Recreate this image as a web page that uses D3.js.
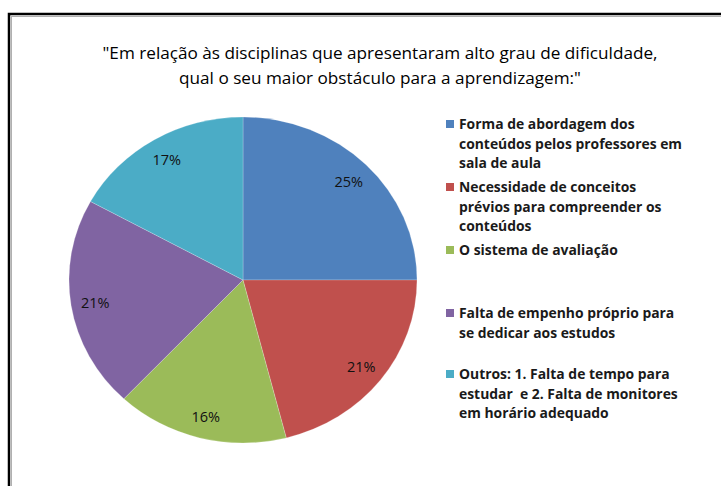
<!DOCTYPE html>
<html>
<head>
<meta charset="utf-8">
<script src="https://cdn.jsdelivr.net/npm/d3@7"></script>
<style>
  html, body { margin: 0; padding: 0; background: #fff; }
  svg { display: block; font-family: "Open Sans", "Noto Sans", sans-serif; }
</style>
</head>
<body>
<div id="chart"></div>
<script>
const WIDTH = 721;
const HEIGHT = 486;

const titleLines = [
  "\"Em relação às disciplinas que apresentaram alto grau de dificuldade,",
  "qual o seu maior obstáculo para a aprendizagem:\"",
];

const categories = [
  ["Forma de abordagem dos", "conteúdos pelos professores em", "sala de aula"],
  ["Necessidade de conceitos", "prévios para compreender os", "conteúdos"],
  ["O sistema de avaliação"],
  ["Falta de empenho próprio para", "se dedicar aos estudos"],
  ["Outros: 1. Falta de tempo para", "estudar  e 2. Falta de monitores", "em horário adequado"],
];
const values = [25, 21, 16, 21, 17];
const colors = ["#4f81bd", "#c0504d", "#9bbb59", "#8064a2", "#4bacc6"];

// legend layout (baseline of first line per item)
const legendTops = [129, 192, 255, 318, 379];
const LEGEND_LINE = 19.5;

const PIE = { cx: 243, cy: 280, rx: 174, ry: 163 };

const svg = d3
  .select("#chart")
  .append("svg")
  .attr("width", WIDTH)
  .attr("height", HEIGHT);

// frame (only the top and left edges are inside the picture)
svg.append("rect")
  .attr("x", 9).attr("y", 14)
  .attr("width", 900).attr("height", 700)
  .attr("fill", "none")
  .attr("stroke", "#000")
  .attr("stroke-width", 2.5);
svg.append("rect")
  .attr("x", 11.5).attr("y", 16.5)
  .attr("width", 900).attr("height", 700)
  .attr("fill", "none")
  .attr("stroke", "#b0b0b0")
  .attr("stroke-width", 1);

// title
const titleTexts = svg.append("g")
  .selectAll("text")
  .data(titleLines)
  .join("text")
  .attr("x", 380)
  .attr("y", (d, i) => 59 + i * 25)
  .attr("text-anchor", "middle")
  .style("font-size", "15.5px")
  .attr("fill", "#000")
  .text((d) => d);

const titleScale = 555 / titleTexts.nodes()[0].getComputedTextLength();
titleTexts.each(function () {
  const len = this.getComputedTextLength();
  d3.select(this)
    .attr("textLength", len * titleScale)
    .attr("lengthAdjust", "spacingAndGlyphs");
});

// pie, stretched a little horizontally like the source picture
const pie = d3.pie().sort(null).value((d) => d);
const arcs = pie(values);
const arc = d3.arc().innerRadius(0).outerRadius(PIE.ry);
const labelArc = d3.arc().innerRadius(PIE.ry * 0.86).outerRadius(PIE.ry * 0.86);
const sx = PIE.rx / PIE.ry;

svg.append("g")
  .attr("transform", `translate(${PIE.cx},${PIE.cy}) scale(${sx},1)`)
  .selectAll("path")
  .data(arcs)
  .join("path")
  .attr("d", arc)
  .attr("fill", (d, i) => colors[i])
  .attr("stroke", "#fff")
  .attr("stroke-opacity", 0.35)
  .attr("stroke-width", 0.6);

svg.append("g")
  .selectAll("text")
  .data(arcs)
  .join("text")
  .attr("x", (d) => PIE.cx + labelArc.centroid(d)[0] * sx)
  .attr("y", (d) => PIE.cy + labelArc.centroid(d)[1] + 6)
  .attr("text-anchor", "middle")
  .style("font-size", "14.5px")
  .attr("fill", "#111")
  .text((d) => `${d.data}%`);

// legend
const legend = svg.append("g");
categories.forEach((lines, i) => {
  legend.append("rect")
    .attr("x", 446)
    .attr("y", legendTops[i] - 9)
    .attr("width", 8)
    .attr("height", 8)
    .attr("fill", colors[i]);
  lines.forEach((line, j) => {
    legend.append("text")
      .attr("class", "legend-line")
      .attr("x", 459)
      .attr("y", legendTops[i] + j * LEGEND_LINE)
      .style("font-size", "14px")
      .style("font-weight", "bold")
      .style("white-space", "pre")
      .attr("fill", "#1a1a1a")
      .text(line);
  });
});

const legendLines = legend.selectAll(".legend-line");
const refLine = legendLines
  .filter((d, i, n) => n[i].textContent === "conteúdos pelos professores em")
  .node();
const legendScale = 223 / refLine.getComputedTextLength();
legendLines.each(function () {
  const len = this.getComputedTextLength();
  d3.select(this)
    .attr("textLength", len * legendScale)
    .attr("lengthAdjust", "spacingAndGlyphs");
});
</script>
</body>
</html>
